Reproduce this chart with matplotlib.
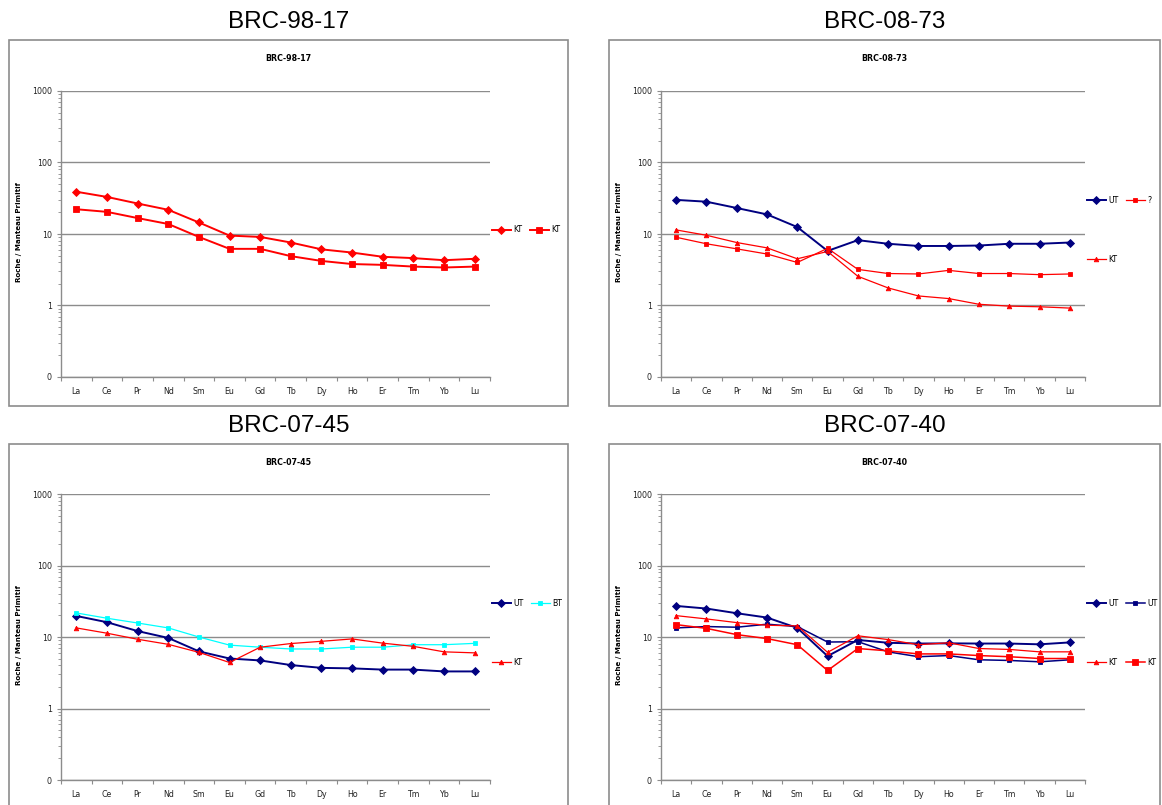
import numpy as np
import matplotlib
matplotlib.use('Agg')
import matplotlib.pyplot as plt
from matplotlib.patches import Rectangle
from matplotlib.ticker import FixedLocator, FixedFormatter, NullFormatter

W, H = 1162, 805

elements = ['La', 'Ce', 'Pr', 'Nd', 'Sm', 'Eu', 'Gd', 'Tb', 'Dy', 'Ho', 'Er', 'Tm', 'Yb', 'Lu']
ytick_vals = [0.1, 1, 10, 100, 1000]
ytick_labels = ['0', '1', '10', '100', '1000']

# BRC-98-17
kt_98_17_a = [39, 33, 26.7, 21.8, 14.5, 9.5, 9.1, 7.6, 6.1, 5.5, 4.8, 4.6, 4.3, 4.5]
kt_98_17_b = [22.2, 20.4, 16.7, 13.8, 9.1, 6.2, 6.2, 4.9, 4.2, 3.8, 3.7, 3.5, 3.4, 3.5]

# BRC-08-73
ut_08_73 = [30, 28.3, 23.1, 18.8, 12.5, 5.8, 8.2, 7.3, 6.8, 6.8, 6.9, 7.3, 7.3, 7.6]
unk_08_73 = [9.0, 7.3, 6.2, 5.25, 4.0, 6.3, 3.2, 2.8, 2.76, 3.1, 2.8, 2.8, 2.7, 2.76]
kt_08_73 = [11.4, 9.6, 7.6, 6.4, 4.5, 5.7, 2.56, 1.76, 1.36, 1.25, 1.04, 0.98, 0.96, 0.92]

# BRC-07-45
ut_07_45 = [19.7, 16.1, 12.1, 9.7, 6.3, 5.0, 4.7, 4.05, 3.7, 3.64, 3.5, 3.5, 3.3, 3.3]
bt_07_45 = [21.7, 18.3, 15.7, 13.4, 10, 7.7, 7.2, 6.8, 6.8, 7.2, 7.2, 7.8, 7.8, 8.15]
kt_07_45 = [13.4, 11.3, 9.3, 7.9, 6.1, 4.4, 7.2, 8.1, 8.7, 9.4, 8.2, 7.4, 6.2, 6.0]

# BRC-07-40
ut_07_40_a = [27.2, 25, 21.5, 18.7, 13.4, 5.4, 9.1, 8.3, 8.1, 8.15, 8.1, 8.1, 7.9, 8.4]
ut_07_40_b = [13.4, 14.0, 13.7, 15.1, 14.0, 8.5, 8.6, 6.2, 5.3, 5.5, 4.8, 4.7, 4.5, 4.8]
kt_07_40_a = [19.9, 17.9, 15.9, 14.6, 14.3, 6.1, 10.4, 9.2, 7.8, 8.3, 6.9, 6.7, 6.2, 6.2]
kt_07_40_b = [14.9, 13.2, 10.8, 9.5, 7.8, 3.4, 6.9, 6.4, 5.8, 5.8, 5.5, 5.3, 5.0, 5.0]

RED = '#ff0000'
NAVY = '#000080'
CYAN = '#00ffff'
GRAY = '#8c8c8c'


def fig_rect(l, t, r, b):
    return [l / W, 1 - b / H, (r - l) / W, (b - t) / H]


def draw_panel(fig, name, box, plot, series, order):
    l, t, r, b = box
    x0, y0, w, h = fig_rect(l, t, r, b)
    fig.patches.append(Rectangle((x0, y0), w, h, transform=fig.transFigure,
                                 fill=False, ec=GRAY, lw=1.2))
    fig.text((l + r) / 2 / W, 1 - (t - 18.5) / H, name, ha='center', va='center',
             fontsize=17.5, family='Liberation Sans')
    fig.text((l + r) / 2 / W, 1 - (t + 18.5) / H, name, ha='center', va='center',
             fontsize=5.7, fontweight='bold')

    pl, pt, pr, pb = plot
    ax = fig.add_axes(fig_rect(pl, pt, pr, pb))
    fig.text((l + 10) / W, 1 - ((pt + pb) / 2 - 2) / H, 'Roche / Manteau Primitif',
             rotation=90, ha='center', va='center', fontsize=5.1, fontweight='bold')

    x = np.arange(len(elements))
    lines = []
    for vals, lab, col, mk, ms, lw in series:
        ln, = ax.plot(x, vals, color=col, marker=mk, ms=ms, lw=lw, mec=col,
                      mew=0.6, label=lab)
        lines.append(ln)

    ax.set_yscale('log')
    ax.set_ylim(0.1, 1000)
    ax.set_xlim(-0.5, len(elements) - 0.5)
    ax.yaxis.set_major_locator(FixedLocator(ytick_vals))
    ax.yaxis.set_major_formatter(FixedFormatter(ytick_labels))
    minors = [m * 10.0 ** e for e in range(-1, 3) for m in range(2, 10)]
    ax.yaxis.set_minor_locator(FixedLocator(minors))
    ax.yaxis.set_minor_formatter(NullFormatter())

    ax.xaxis.set_major_locator(FixedLocator(np.arange(-0.5, len(elements), 1)))
    ax.xaxis.set_major_formatter(NullFormatter())
    ax.xaxis.set_minor_locator(FixedLocator(x))
    ax.xaxis.set_minor_formatter(FixedFormatter(elements))

    ax.tick_params(axis='y', which='major', length=3, width=0.8, color=GRAY,
                   labelsize=5.7, labelcolor='#222222', pad=3.5)
    ax.tick_params(axis='y', which='minor', length=2, width=0.6, color=GRAY)
    ax.tick_params(axis='x', which='major', length=3, width=0.8, color=GRAY)
    ax.tick_params(axis='x', which='minor', length=0, labelsize=5.7,
                   labelcolor='#222222', pad=7)

    ax.yaxis.grid(True, which='major', color=GRAY, lw=1.0)
    ax.set_axisbelow(True)
    for s in ['top', 'right']:
        ax.spines[s].set_visible(False)
    for s in ['left', 'bottom']:
        ax.spines[s].set_color(GRAY)
        ax.spines[s].set_linewidth(1.0)

    # two-column legend to the right, like the spreadsheet layout
    ax.legend(handles=[lines[i] for i in order], ncol=2, loc='center left',
              bbox_to_anchor=((pr + 2) / W, 1 - ((pt + pb) / 2 - 4) / H),
              bbox_transform=fig.transFigure, frameon=False, fontsize=5.6,
              handlelength=2.4, handletextpad=0.3, columnspacing=1.0,
              labelspacing=6.4, borderpad=0, borderaxespad=0)
    return ax


def main():
    fig = plt.figure(figsize=(W / 100, H / 100), dpi=100)

    draw_panel(fig, 'BRC-98-17', (9, 40, 568, 406), (61, 91, 490, 377),
               [(kt_98_17_a, 'KT', RED, 'D', 4.1, 1.4),
                (kt_98_17_b, 'KT', RED, 's', 4.8, 1.4)], [0, 1])

    draw_panel(fig, 'BRC-08-73', (609, 40, 1160, 406), (661, 91, 1085, 377),
               [(ut_08_73, 'UT', NAVY, 'D', 3.9, 1.4),
                (unk_08_73, '?', RED, 's', 2.7, 0.9),
                (kt_08_73, 'KT', RED, '^', 3.3, 0.9)], [0, 2, 1])

    draw_panel(fig, 'BRC-07-45', (9, 444, 568, 830), (61, 494, 490, 780),
               [(ut_07_45, 'UT', NAVY, 'D', 3.7, 1.4),
                (bt_07_45, 'BT', CYAN, 's', 2.9, 0.9),
                (kt_07_45, 'KT', RED, '^', 3.3, 0.9)], [0, 2, 1])

    draw_panel(fig, 'BRC-07-40', (609, 444, 1160, 830), (661, 494, 1085, 780),
               [(ut_07_40_a, 'UT', NAVY, 'D', 3.9, 1.4),
                (ut_07_40_b, 'UT', NAVY, 's', 2.9, 1.1),
                (kt_07_40_a, 'KT', RED, '^', 3.3, 0.9),
                (kt_07_40_b, 'KT', RED, 's', 5.0, 1.1)], [0, 2, 1, 3])

    fig.savefig('out.png', dpi=100, facecolor='white')


if __name__ == '__main__':
    main()
